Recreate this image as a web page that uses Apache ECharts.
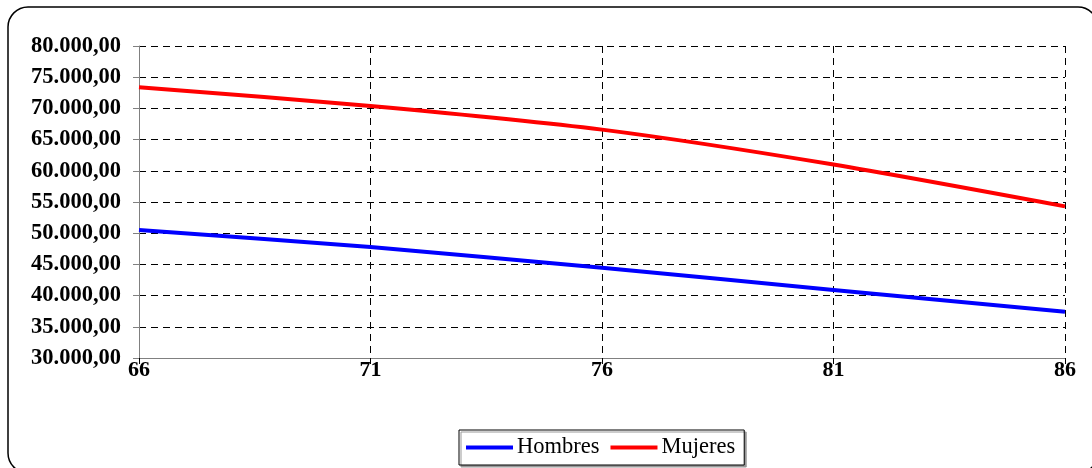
<!DOCTYPE html>
<html>
<head>
<meta charset="utf-8">
<script src="https://cdn.jsdelivr.net/npm/echarts@6/dist/echarts.min.js"></script>
<style>
html,body{margin:0;padding:0;background:#fff;}
#c{width:1092px;height:468px;}
</style>
</head>
<body>
<div id="c"></div>
<script>
var categories = ['66', '71', '76', '81', '86'];
var hombres = [50500, 47800, 44450, 40900, 37400];
var mujeres = [73400, 70400, 66600, 61000, 54300];
var seriesNames = ['Hombres', 'Mujeres'];

function fmt(v) {
  var s = String(Math.round(v));
  s = s.replace(/\B(?=(\d{3})+(?!\d))/g, '.');
  return s + ',00';
}

var chart = echarts.init(document.getElementById('c'), null, {renderer: 'canvas'});
chart.setOption({
  animation: false,
  backgroundColor: '#fff',
  graphic: [{
    type: 'rect',
    shape: {x: 8, y: 7, width: 1090, height: 466, r: 20},
    style: {fill: 'none', stroke: '#000', lineWidth: 1.5},
    z: -1
  }],
  grid: {left: 139, right: 27, top: 46, bottom: 110, containLabel: false},
  legend: {
    data: seriesNames,
    left: 459,
    top: 430,
    orient: 'horizontal',
    icon: 'rect',
    itemWidth: 47,
    itemHeight: 4,
    itemGap: 11,
    padding: [6, 9, 6, 7],
    backgroundColor: '#fff',
    borderColor: '#000',
    borderWidth: 1,
    shadowColor: '#999',
    shadowOffsetX: 2,
    shadowOffsetY: 2,
    shadowBlur: 0,
    textStyle: {fontFamily: 'Liberation Serif', fontSize: 22.5, color: '#000', padding: [0, 0, 0, -1]}
  },
  xAxis: {
    type: 'category',
    data: categories,
    boundaryGap: false,
    axisLine: {lineStyle: {color: '#808080', width: 1}},
    axisTick: {show: true, length: 6, lineStyle: {color: '#000'}},
    axisLabel: {fontFamily: 'Liberation Serif', fontWeight: 'bold', fontSize: 22, color: '#000', margin: 1},
    splitLine: {show: true, lineStyle: {color: '#000', type: [7, 5], width: 1}}
  },
  yAxis: {
    type: 'value',
    min: 30000,
    max: 80000,
    interval: 5000,
    axisLine: {show: true, lineStyle: {color: '#808080', width: 1}},
    axisTick: {show: true, length: 6, lineStyle: {color: '#808080'}},
    axisLabel: {fontFamily: 'Liberation Serif', fontWeight: 'bold', fontSize: 22.5, color: '#000', margin: 18, formatter: fmt},
    splitLine: {show: true, lineStyle: {color: '#000', type: [7, 5], width: 1}}
  },
  series: [{
    name: seriesNames[0],
    type: 'line',
    data: hombres,
    smooth: 0.25,
    showSymbol: false,
    symbol: 'none',
    lineStyle: {color: '#0000FF', width: 4},
    itemStyle: {color: '#0000FF'}
  }, {
    name: seriesNames[1],
    type: 'line',
    data: mujeres,
    smooth: 0.25,
    showSymbol: false,
    symbol: 'none',
    lineStyle: {color: '#FF0000', width: 4},
    itemStyle: {color: '#FF0000'}
  }]
});
</script>
</body>
</html>
